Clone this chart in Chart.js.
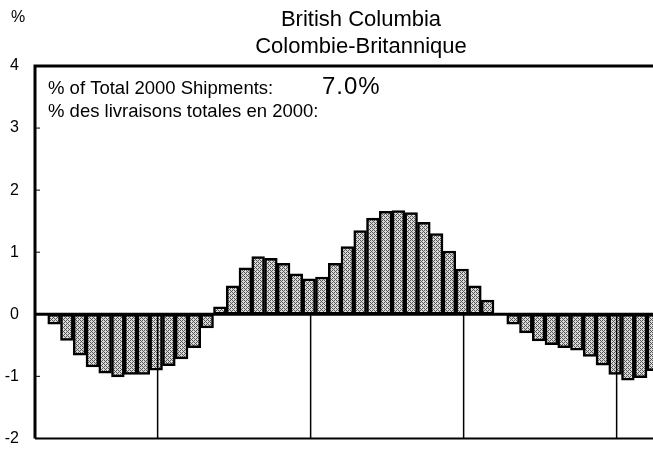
<!DOCTYPE html>
<html>
<head>
<meta charset="utf-8">
<script src="https://cdn.jsdelivr.net/npm/chart.js@4"></script>
<style>
  html, body { margin: 0; padding: 0; background: #fff; overflow: hidden; }
</style>
</head>
<body>
<canvas id="myChart" width="653" height="464"></canvas>
<script>
// monthly change, % (one value per month, null = no bar)
var values = [
    null, -0.16, -0.42, -0.66, -0.85, -0.95, -1.01, -0.97, -0.97, -0.90, -0.83, -0.72,
    -0.54, -0.22, 0.12, 0.46, 0.75, 0.93, 0.90, 0.82, 0.65, 0.57, 0.60, 0.82,
    1.09, 1.35, 1.55, 1.66, 1.67, 1.64, 1.48, 1.30, 1.02, 0.73, 0.46, 0.23,
    null, -0.16, -0.30, -0.43, -0.49, -0.54, -0.58, -0.68, -0.82, -0.97, -1.06, -1.02,
    -0.91
];
var yTicks = [-2, -1, 0, 1, 2, 3, 4];
var yearMarks = [9, 21, 33, 45];
var titleLines = ['British Columbia', 'Colombie-Britannique'];
var shareLabel = '% of Total 2000 Shipments:';
var shareLabelFr = '% des livraisons totales en 2000:';
var shareValue = '7.0%';
var unitLabel = '%';

var FONT = '"Liberation Sans", Arial, Helvetica, sans-serif';

// stippled grey fill like the printed bars (ordered dither)
function stipple() {
    var c = document.createElement('canvas');
    c.width = 4; c.height = 4;
    var g = c.getContext('2d');
    g.fillStyle = '#dadada';
    g.fillRect(0, 0, 4, 4);
    g.fillStyle = '#555';
    [[0, 0], [2, 0], [1, 1], [2, 2], [0, 2], [3, 3]].forEach(function (p) {
        g.fillRect(p[0], p[1], 1, 1);
    });
    return g.createPattern(c, 'repeat');
}

var frame = {
    id: 'frame',
    afterDatasetsDraw: function (chart) {
        var ctx = chart.ctx, a = chart.chartArea;
        var x = chart.scales.x, y = chart.scales.y;
        var zero = y.getPixelForValue(0);
        ctx.save();
        ctx.strokeStyle = '#000';
        ctx.lineCap = 'butt';
        // year marks
        ctx.lineWidth = 1.5;
        yearMarks.forEach(function (i) {
            var px = x.getPixelForValue(i) + 1.5;
            ctx.beginPath();
            ctx.moveTo(px, zero);
            ctx.lineTo(px, a.bottom);
            ctx.stroke();
        });
        // zero line
        ctx.lineWidth = 3;
        ctx.beginPath();
        ctx.moveTo(a.left, zero);
        ctx.lineTo(a.right, zero);
        ctx.stroke();
        // inner tick marks
        ctx.lineWidth = 1;
        yTicks.forEach(function (v) {
            var py = y.getPixelForValue(v);
            ctx.beginPath();
            ctx.moveTo(a.left, py);
            ctx.lineTo(a.left + 5, py);
            ctx.stroke();
        });
        // box
        ctx.lineWidth = 3;
        ctx.beginPath();
        ctx.moveTo(a.right, a.top);
        ctx.lineTo(a.left, a.top);
        ctx.lineTo(a.left, a.bottom);
        ctx.stroke();
        ctx.lineWidth = 2;
        ctx.beginPath();
        ctx.moveTo(a.left, a.bottom);
        ctx.lineTo(a.right, a.bottom);
        ctx.stroke();
        ctx.restore();
    },
    afterDraw: function (chart) {
        var ctx = chart.ctx, a = chart.chartArea;
        ctx.save();
        ctx.fillStyle = '#000';
        ctx.textBaseline = 'middle';
        ctx.textAlign = 'left';
        ctx.font = '16px ' + FONT;
        ctx.fillText(unitLabel, 11, 18);
        ctx.textAlign = 'center';
        ctx.font = '22px ' + FONT;
        ctx.fillText(titleLines[0], 361, 20);
        ctx.fillText(titleLines[1], 361, 47);
        ctx.textAlign = 'left';
        ctx.font = '18.5px ' + FONT;
        ctx.fillText(shareLabel, a.left + 13, 89);
        ctx.fillText(shareLabelFr, a.left + 13, 112);
        ctx.font = '24px ' + FONT;
        ctx.letterSpacing = '1px';
        ctx.fillText(shareValue, a.left + 287, 87);
        ctx.restore();
    }
};

var ctx = document.getElementById('myChart');
new Chart(ctx, {
    type: 'bar',
    data: {
        datasets: [
            {
                data: values.map(function (v, i) { return { x: i, y: v }; }),
                backgroundColor: stipple(),
                borderColor: '#000',
                borderWidth: 2.5,
                borderSkipped: false,
                barPercentage: 1,
                categoryPercentage: 1
            }
        ]
    },
    options: {
        responsive: false,
        animation: false,
        layout: { padding: { top: 66, bottom: 6, left: 0, right: 0 } },
        plugins: {
            legend: { display: false },
            tooltip: { enabled: false }
        },
        scales: {
            x: {
                type: 'linear',
                display: false,
                offset: false,
                min: -0.5,
                max: 47.97
            },
            y: {
                min: -2,
                max: 4,
                afterFit: function (s) { s.width = 35; },
                afterBuildTicks: function (s) {
                    s.ticks = yTicks.map(function (v) { return { value: v }; });
                },
                grid: { display: false, drawTicks: false },
                border: { display: false },
                ticks: {
                    padding: 16,
                    color: '#000',
                    font: { family: FONT, size: 16 }
                }
            }
        }
    },
    plugins: [frame]
});
</script>
</body>
</html>
